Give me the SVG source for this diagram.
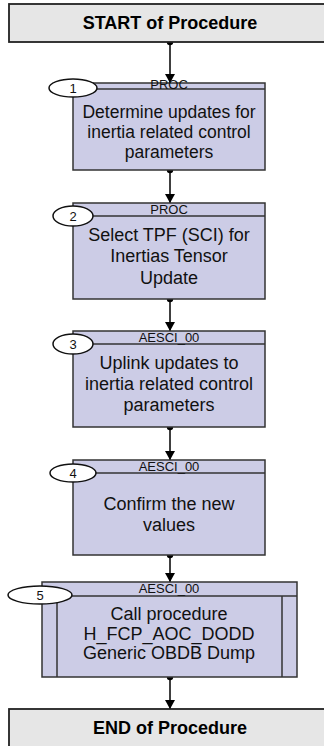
<svg xmlns="http://www.w3.org/2000/svg" width="324" height="746" viewBox="0 0 324 746">
<style>
.term{fill:#e6e6e6;stroke:#222;stroke-width:1.8}
.box{fill:#ccccE6;stroke:#333;stroke-width:1.5}
.ln{stroke:#333;stroke-width:1.5;fill:none}
.ell{fill:#fff;stroke:#111;stroke-width:1.5}
.tt{font-family:"Liberation Sans",Arial,sans-serif;font-weight:bold;font-size:18px;fill:#000;text-anchor:middle}
.bt{font-family:"Liberation Sans",Arial,sans-serif;font-size:18px;fill:#111;text-anchor:middle}
.bt1{font-size:17.5px}
.ht{font-family:"Liberation Sans",Arial,sans-serif;font-size:13px;fill:#111;text-anchor:middle}
.nt{font-family:"Liberation Sans",Arial,sans-serif;font-size:13px;fill:#111;text-anchor:middle}
.con{stroke:#000;stroke-width:1.5;fill:none;marker-end:url(#arr);marker-start:url(#dot)}
</style>
<defs>
<marker id="arr" markerWidth="10" markerHeight="10" refX="9" refY="5" orient="auto" markerUnits="userSpaceOnUse">
<path d="M0,0 L9,5 L0,10 Z" fill="#000"/>
</marker>
<marker id="dot" markerWidth="8" markerHeight="8" refX="4" refY="4" markerUnits="userSpaceOnUse">
<circle cx="4" cy="4" r="3.2" fill="#000"/>
</marker>
</defs>

<g id="connectors">
<line class="con" x1="170" y1="42" x2="170" y2="83"/>
<line class="con" x1="170" y1="170" x2="170" y2="203"/>
<line class="con" x1="170" y1="299" x2="170" y2="331"/>
<line class="con" x1="170" y1="427" x2="170" y2="460"/>
<line class="con" x1="170" y1="555" x2="170" y2="582"/>
<line class="con" x1="170" y1="677" x2="170" y2="709"/>
</g>

<g id="start">
<rect class="term" x="9" y="4" width="320" height="38"/>
<text class="tt" x="170" y="29">START of Procedure</text>
</g>

<g id="step1">
<rect class="box" x="73" y="83" width="192" height="87"/>
<line class="ln" x1="73" y1="89" x2="265" y2="89"/>
<text class="ht" x="169" y="89">PROC</text>
<text class="bt bt1" x="169" y="118">Determine updates for</text>
<text class="bt bt1" x="169" y="138">inertia related control</text>
<text class="bt bt1" x="169" y="158">parameters</text>
<ellipse class="ell" cx="73" cy="88" rx="24" ry="9"/>
<text class="nt" x="73" y="93">1</text>
</g>

<g id="step2">
<rect class="box" x="73" y="203" width="192" height="96"/>
<line class="ln" x1="73" y1="216" x2="265" y2="216"/>
<text class="ht" x="169" y="214">PROC</text>
<text class="bt" x="169" y="241">Select TPF (SCI) for</text>
<text class="bt" x="169" y="262">Inertias Tensor</text>
<text class="bt" x="169" y="284">Update</text>
<ellipse class="ell" cx="73" cy="216" rx="20" ry="10"/>
<text class="nt" x="73" y="221">2</text>
</g>

<g id="step3">
<rect class="box" x="73" y="331" width="192" height="96"/>
<line class="ln" x1="73" y1="344" x2="265" y2="344"/>
<text class="ht" x="169" y="342">AESCI_00</text>
<text class="bt" x="169" y="369">Uplink updates to</text>
<text class="bt" x="169" y="390">inertia related control</text>
<text class="bt" x="169" y="411">parameters</text>
<ellipse class="ell" cx="73" cy="344" rx="20" ry="10"/>
<text class="nt" x="73" y="349">3</text>
</g>

<g id="step4">
<rect class="box" x="73" y="460" width="192" height="95"/>
<line class="ln" x1="73" y1="473" x2="265" y2="473"/>
<text class="ht" x="169" y="471">AESCI_00</text>
<text class="bt" x="169" y="510">Confirm the new</text>
<text class="bt" x="169" y="531">values</text>
<ellipse class="ell" cx="73" cy="473" rx="23" ry="9"/>
<text class="nt" x="73" y="478">4</text>
</g>

<g id="step5">
<rect class="box" x="42" y="582" width="255" height="95"/>
<line class="ln" x1="42" y1="596" x2="297" y2="596"/>
<line class="ln" x1="57" y1="596" x2="57" y2="677"/>
<line class="ln" x1="282" y1="596" x2="282" y2="677"/>
<text class="ht" x="169" y="593">AESCI_00</text>
<text class="bt" x="169" y="620">Call procedure</text>
<text class="bt" x="169" y="640">H_FCP_AOC_DODD</text>
<text class="bt" x="169" y="659">Generic OBDB Dump</text>
<ellipse class="ell" cx="40" cy="595" rx="32" ry="9"/>
<text class="nt" x="40" y="600">5</text>
</g>

<g id="end">
<rect class="term" x="9" y="709" width="320" height="45"/>
<text class="tt" x="170" y="734">END of Procedure</text>
</g>
</svg>
